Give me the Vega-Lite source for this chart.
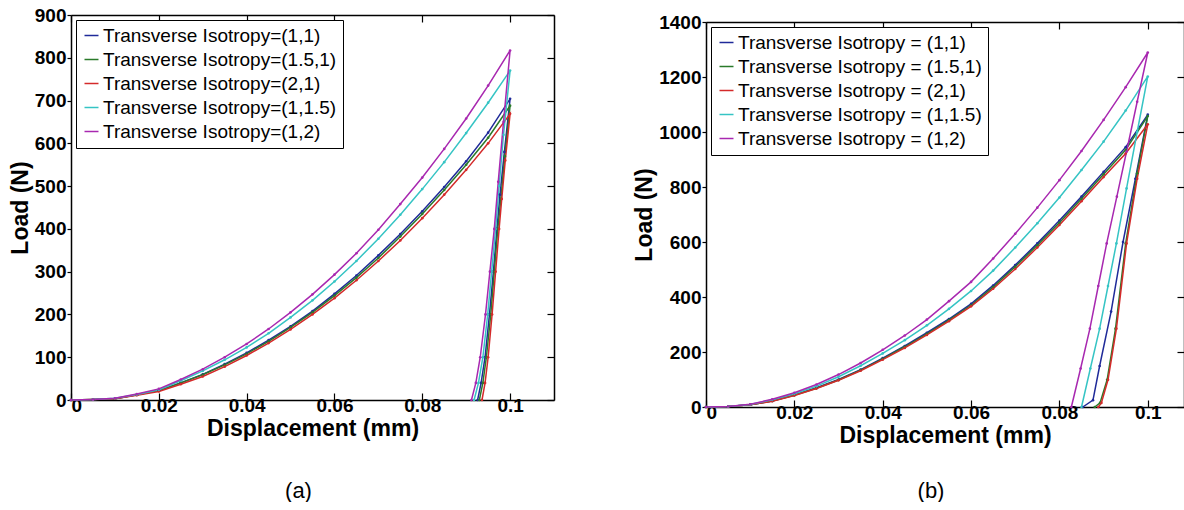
{
"$schema": "https://vega.github.io/schema/vega-lite/v6.json",
"background": "white",
"padding": {"left": 9, "top": 6, "right": 0, "bottom": 0},
"config": {
"font": "Liberation Sans",
"view": {"stroke": null},
"axis": {"domainColor": "black", "domainWidth": 1.5, "tickColor": "black", "tickWidth": 1.2, "labelColor": "black", "titleColor": "black", "labelFontSize": 19, "labelFontWeight": "bold", "titleFontSize": 23, "titleFontWeight": "bold", "grid": false, "labelFont": "Liberation Sans", "titleFont": "Liberation Sans"},
"title": {"font": "Liberation Sans", "color": "black"}
},
"datasets": {
"a": [
{"s":"Transverse Isotropy=(1,1)","i":0,"x":0,"y":0},{"s":"Transverse Isotropy=(1,1)","i":1,"x":0.005,"y":1},{"s":"Transverse Isotropy=(1,1)","i":2,"x":0.01,"y":3},{"s":"Transverse Isotropy=(1,1)","i":3,"x":0.015,"y":12},{"s":"Transverse Isotropy=(1,1)","i":4,"x":0.02,"y":22},{"s":"Transverse Isotropy=(1,1)","i":5,"x":0.025,"y":40},{"s":"Transverse Isotropy=(1,1)","i":6,"x":0.03,"y":60},{"s":"Transverse Isotropy=(1,1)","i":7,"x":0.035,"y":84},{"s":"Transverse Isotropy=(1,1)","i":8,"x":0.04,"y":110},{"s":"Transverse Isotropy=(1,1)","i":9,"x":0.045,"y":140},{"s":"Transverse Isotropy=(1,1)","i":10,"x":0.05,"y":172},{"s":"Transverse Isotropy=(1,1)","i":11,"x":0.055,"y":208},{"s":"Transverse Isotropy=(1,1)","i":12,"x":0.06,"y":248},{"s":"Transverse Isotropy=(1,1)","i":13,"x":0.065,"y":291},{"s":"Transverse Isotropy=(1,1)","i":14,"x":0.07,"y":338},{"s":"Transverse Isotropy=(1,1)","i":15,"x":0.075,"y":388},{"s":"Transverse Isotropy=(1,1)","i":16,"x":0.08,"y":441},{"s":"Transverse Isotropy=(1,1)","i":17,"x":0.085,"y":498},{"s":"Transverse Isotropy=(1,1)","i":18,"x":0.09,"y":558},{"s":"Transverse Isotropy=(1,1)","i":19,"x":0.095,"y":625},{"s":"Transverse Isotropy=(1,1)","i":20,"x":0.1,"y":704},
{"s":"Transverse Isotropy=(1,1)","i":21,"x":0.0987,"y":580},{"s":"Transverse Isotropy=(1,1)","i":22,"x":0.0977,"y":480},{"s":"Transverse Isotropy=(1,1)","i":23,"x":0.097,"y":400},{"s":"Transverse Isotropy=(1,1)","i":24,"x":0.0962,"y":300},{"s":"Transverse Isotropy=(1,1)","i":25,"x":0.0953,"y":200},{"s":"Transverse Isotropy=(1,1)","i":26,"x":0.0943,"y":100},{"s":"Transverse Isotropy=(1,1)","i":27,"x":0.0934,"y":40},{"s":"Transverse Isotropy=(1,1)","i":28,"x":0.0926,"y":0},
{"s":"Transverse Isotropy=(1.5,1)","i":0,"x":0,"y":0},{"s":"Transverse Isotropy=(1.5,1)","i":1,"x":0.005,"y":1},{"s":"Transverse Isotropy=(1.5,1)","i":2,"x":0.01,"y":3},{"s":"Transverse Isotropy=(1.5,1)","i":3,"x":0.015,"y":12},{"s":"Transverse Isotropy=(1.5,1)","i":4,"x":0.02,"y":22},{"s":"Transverse Isotropy=(1.5,1)","i":5,"x":0.025,"y":40},{"s":"Transverse Isotropy=(1.5,1)","i":6,"x":0.03,"y":59},{"s":"Transverse Isotropy=(1.5,1)","i":7,"x":0.035,"y":82},{"s":"Transverse Isotropy=(1.5,1)","i":8,"x":0.04,"y":108},{"s":"Transverse Isotropy=(1.5,1)","i":9,"x":0.045,"y":137},{"s":"Transverse Isotropy=(1.5,1)","i":10,"x":0.05,"y":170},{"s":"Transverse Isotropy=(1.5,1)","i":11,"x":0.055,"y":205},{"s":"Transverse Isotropy=(1.5,1)","i":12,"x":0.06,"y":244},{"s":"Transverse Isotropy=(1.5,1)","i":13,"x":0.065,"y":286},{"s":"Transverse Isotropy=(1.5,1)","i":14,"x":0.07,"y":332},{"s":"Transverse Isotropy=(1.5,1)","i":15,"x":0.075,"y":382},{"s":"Transverse Isotropy=(1.5,1)","i":16,"x":0.08,"y":435},{"s":"Transverse Isotropy=(1.5,1)","i":17,"x":0.085,"y":491},{"s":"Transverse Isotropy=(1.5,1)","i":18,"x":0.09,"y":550},{"s":"Transverse Isotropy=(1.5,1)","i":19,"x":0.095,"y":613},{"s":"Transverse Isotropy=(1.5,1)","i":20,"x":0.1,"y":688},
{"s":"Transverse Isotropy=(1.5,1)","i":21,"x":0.0988,"y":570},{"s":"Transverse Isotropy=(1.5,1)","i":22,"x":0.0979,"y":470},{"s":"Transverse Isotropy=(1.5,1)","i":23,"x":0.0972,"y":400},{"s":"Transverse Isotropy=(1.5,1)","i":24,"x":0.0964,"y":300},{"s":"Transverse Isotropy=(1.5,1)","i":25,"x":0.0956,"y":200},{"s":"Transverse Isotropy=(1.5,1)","i":26,"x":0.0946,"y":100},{"s":"Transverse Isotropy=(1.5,1)","i":27,"x":0.0938,"y":40},{"s":"Transverse Isotropy=(1.5,1)","i":28,"x":0.093,"y":0},
{"s":"Transverse Isotropy=(2,1)","i":0,"x":0,"y":0},{"s":"Transverse Isotropy=(2,1)","i":1,"x":0.005,"y":1},{"s":"Transverse Isotropy=(2,1)","i":2,"x":0.01,"y":3},{"s":"Transverse Isotropy=(2,1)","i":3,"x":0.015,"y":11},{"s":"Transverse Isotropy=(2,1)","i":4,"x":0.02,"y":20},{"s":"Transverse Isotropy=(2,1)","i":5,"x":0.025,"y":37},{"s":"Transverse Isotropy=(2,1)","i":6,"x":0.03,"y":55},{"s":"Transverse Isotropy=(2,1)","i":7,"x":0.035,"y":78},{"s":"Transverse Isotropy=(2,1)","i":8,"x":0.04,"y":104},{"s":"Transverse Isotropy=(2,1)","i":9,"x":0.045,"y":133},{"s":"Transverse Isotropy=(2,1)","i":10,"x":0.05,"y":165},{"s":"Transverse Isotropy=(2,1)","i":11,"x":0.055,"y":200},{"s":"Transverse Isotropy=(2,1)","i":12,"x":0.06,"y":238},{"s":"Transverse Isotropy=(2,1)","i":13,"x":0.065,"y":280},{"s":"Transverse Isotropy=(2,1)","i":14,"x":0.07,"y":325},{"s":"Transverse Isotropy=(2,1)","i":15,"x":0.075,"y":373},{"s":"Transverse Isotropy=(2,1)","i":16,"x":0.08,"y":425},{"s":"Transverse Isotropy=(2,1)","i":17,"x":0.085,"y":480},{"s":"Transverse Isotropy=(2,1)","i":18,"x":0.09,"y":538},{"s":"Transverse Isotropy=(2,1)","i":19,"x":0.095,"y":600},{"s":"Transverse Isotropy=(2,1)","i":20,"x":0.1,"y":669},
{"s":"Transverse Isotropy=(2,1)","i":21,"x":0.0989,"y":560},{"s":"Transverse Isotropy=(2,1)","i":22,"x":0.0981,"y":470},{"s":"Transverse Isotropy=(2,1)","i":23,"x":0.0975,"y":400},{"s":"Transverse Isotropy=(2,1)","i":24,"x":0.0967,"y":300},{"s":"Transverse Isotropy=(2,1)","i":25,"x":0.0959,"y":200},{"s":"Transverse Isotropy=(2,1)","i":26,"x":0.095,"y":100},{"s":"Transverse Isotropy=(2,1)","i":27,"x":0.0943,"y":40},{"s":"Transverse Isotropy=(2,1)","i":28,"x":0.0936,"y":0},
{"s":"Transverse Isotropy=(1,1.5)","i":0,"x":0,"y":0},{"s":"Transverse Isotropy=(1,1.5)","i":1,"x":0.005,"y":1},{"s":"Transverse Isotropy=(1,1.5)","i":2,"x":0.01,"y":4},{"s":"Transverse Isotropy=(1,1.5)","i":3,"x":0.015,"y":13},{"s":"Transverse Isotropy=(1,1.5)","i":4,"x":0.02,"y":24},{"s":"Transverse Isotropy=(1,1.5)","i":5,"x":0.025,"y":45},{"s":"Transverse Isotropy=(1,1.5)","i":6,"x":0.03,"y":68},{"s":"Transverse Isotropy=(1,1.5)","i":7,"x":0.035,"y":94},{"s":"Transverse Isotropy=(1,1.5)","i":8,"x":0.04,"y":123},{"s":"Transverse Isotropy=(1,1.5)","i":9,"x":0.045,"y":156},{"s":"Transverse Isotropy=(1,1.5)","i":10,"x":0.05,"y":193},{"s":"Transverse Isotropy=(1,1.5)","i":11,"x":0.055,"y":233},{"s":"Transverse Isotropy=(1,1.5)","i":12,"x":0.06,"y":277},{"s":"Transverse Isotropy=(1,1.5)","i":13,"x":0.065,"y":325},{"s":"Transverse Isotropy=(1,1.5)","i":14,"x":0.07,"y":377},{"s":"Transverse Isotropy=(1,1.5)","i":15,"x":0.075,"y":433},{"s":"Transverse Isotropy=(1,1.5)","i":16,"x":0.08,"y":493},{"s":"Transverse Isotropy=(1,1.5)","i":17,"x":0.085,"y":556},{"s":"Transverse Isotropy=(1,1.5)","i":18,"x":0.09,"y":624},{"s":"Transverse Isotropy=(1,1.5)","i":19,"x":0.095,"y":695},{"s":"Transverse Isotropy=(1,1.5)","i":20,"x":0.1,"y":770},
{"s":"Transverse Isotropy=(1,1.5)","i":21,"x":0.0985,"y":620},{"s":"Transverse Isotropy=(1,1.5)","i":22,"x":0.0975,"y":500},{"s":"Transverse Isotropy=(1,1.5)","i":23,"x":0.0967,"y":400},{"s":"Transverse Isotropy=(1,1.5)","i":24,"x":0.0958,"y":300},{"s":"Transverse Isotropy=(1,1.5)","i":25,"x":0.0949,"y":200},{"s":"Transverse Isotropy=(1,1.5)","i":26,"x":0.0938,"y":100},{"s":"Transverse Isotropy=(1,1.5)","i":27,"x":0.0928,"y":40},{"s":"Transverse Isotropy=(1,1.5)","i":28,"x":0.0918,"y":0},
{"s":"Transverse Isotropy=(1,2)","i":0,"x":0,"y":0},{"s":"Transverse Isotropy=(1,2)","i":1,"x":0.005,"y":1},{"s":"Transverse Isotropy=(1,2)","i":2,"x":0.01,"y":4},{"s":"Transverse Isotropy=(1,2)","i":3,"x":0.015,"y":14},{"s":"Transverse Isotropy=(1,2)","i":4,"x":0.02,"y":26},{"s":"Transverse Isotropy=(1,2)","i":5,"x":0.025,"y":48},{"s":"Transverse Isotropy=(1,2)","i":6,"x":0.03,"y":72},{"s":"Transverse Isotropy=(1,2)","i":7,"x":0.035,"y":100},{"s":"Transverse Isotropy=(1,2)","i":8,"x":0.04,"y":131},{"s":"Transverse Isotropy=(1,2)","i":9,"x":0.045,"y":166},{"s":"Transverse Isotropy=(1,2)","i":10,"x":0.05,"y":205},{"s":"Transverse Isotropy=(1,2)","i":11,"x":0.055,"y":247},{"s":"Transverse Isotropy=(1,2)","i":12,"x":0.06,"y":293},{"s":"Transverse Isotropy=(1,2)","i":13,"x":0.065,"y":343},{"s":"Transverse Isotropy=(1,2)","i":14,"x":0.07,"y":398},{"s":"Transverse Isotropy=(1,2)","i":15,"x":0.075,"y":458},{"s":"Transverse Isotropy=(1,2)","i":16,"x":0.08,"y":520},{"s":"Transverse Isotropy=(1,2)","i":17,"x":0.085,"y":587},{"s":"Transverse Isotropy=(1,2)","i":18,"x":0.09,"y":658},{"s":"Transverse Isotropy=(1,2)","i":19,"x":0.095,"y":735},{"s":"Transverse Isotropy=(1,2)","i":20,"x":0.1,"y":817},
{"s":"Transverse Isotropy=(1,2)","i":21,"x":0.0985,"y":650},{"s":"Transverse Isotropy=(1,2)","i":22,"x":0.0973,"y":510},{"s":"Transverse Isotropy=(1,2)","i":23,"x":0.0964,"y":400},{"s":"Transverse Isotropy=(1,2)","i":24,"x":0.0954,"y":300},{"s":"Transverse Isotropy=(1,2)","i":25,"x":0.0944,"y":200},{"s":"Transverse Isotropy=(1,2)","i":26,"x":0.0932,"y":100},{"s":"Transverse Isotropy=(1,2)","i":27,"x":0.0922,"y":40},{"s":"Transverse Isotropy=(1,2)","i":28,"x":0.0912,"y":0}
],
"b": [
{"s":"Transverse Isotropy = (1,1)","i":0,"x":0,"y":0},{"s":"Transverse Isotropy = (1,1)","i":1,"x":0.005,"y":2},{"s":"Transverse Isotropy = (1,1)","i":2,"x":0.01,"y":8},{"s":"Transverse Isotropy = (1,1)","i":3,"x":0.015,"y":22},{"s":"Transverse Isotropy = (1,1)","i":4,"x":0.02,"y":44},{"s":"Transverse Isotropy = (1,1)","i":5,"x":0.025,"y":70},{"s":"Transverse Isotropy = (1,1)","i":6,"x":0.03,"y":100},{"s":"Transverse Isotropy = (1,1)","i":7,"x":0.035,"y":136},{"s":"Transverse Isotropy = (1,1)","i":8,"x":0.04,"y":178},{"s":"Transverse Isotropy = (1,1)","i":9,"x":0.045,"y":222},{"s":"Transverse Isotropy = (1,1)","i":10,"x":0.05,"y":270},{"s":"Transverse Isotropy = (1,1)","i":11,"x":0.055,"y":320},{"s":"Transverse Isotropy = (1,1)","i":12,"x":0.06,"y":375},{"s":"Transverse Isotropy = (1,1)","i":13,"x":0.065,"y":442},{"s":"Transverse Isotropy = (1,1)","i":14,"x":0.07,"y":516},{"s":"Transverse Isotropy = (1,1)","i":15,"x":0.075,"y":595},{"s":"Transverse Isotropy = (1,1)","i":16,"x":0.08,"y":678},{"s":"Transverse Isotropy = (1,1)","i":17,"x":0.085,"y":765},{"s":"Transverse Isotropy = (1,1)","i":18,"x":0.09,"y":855},{"s":"Transverse Isotropy = (1,1)","i":19,"x":0.095,"y":945},{"s":"Transverse Isotropy = (1,1)","i":20,"x":0.1,"y":1063},
{"s":"Transverse Isotropy = (1,1)","i":21,"x":0.0972,"y":830},{"s":"Transverse Isotropy = (1,1)","i":22,"x":0.0944,"y":600},{"s":"Transverse Isotropy = (1,1)","i":23,"x":0.0917,"y":347},{"s":"Transverse Isotropy = (1,1)","i":24,"x":0.0891,"y":149},{"s":"Transverse Isotropy = (1,1)","i":25,"x":0.0876,"y":25},{"s":"Transverse Isotropy = (1,1)","i":26,"x":0.0853,"y":0},
{"s":"Transverse Isotropy = (1.5,1)","i":0,"x":0,"y":0},{"s":"Transverse Isotropy = (1.5,1)","i":1,"x":0.005,"y":2},{"s":"Transverse Isotropy = (1.5,1)","i":2,"x":0.01,"y":8},{"s":"Transverse Isotropy = (1.5,1)","i":3,"x":0.015,"y":22},{"s":"Transverse Isotropy = (1.5,1)","i":4,"x":0.02,"y":43},{"s":"Transverse Isotropy = (1.5,1)","i":5,"x":0.025,"y":68},{"s":"Transverse Isotropy = (1.5,1)","i":6,"x":0.03,"y":98},{"s":"Transverse Isotropy = (1.5,1)","i":7,"x":0.035,"y":134},{"s":"Transverse Isotropy = (1.5,1)","i":8,"x":0.04,"y":175},{"s":"Transverse Isotropy = (1.5,1)","i":9,"x":0.045,"y":219},{"s":"Transverse Isotropy = (1.5,1)","i":10,"x":0.05,"y":266},{"s":"Transverse Isotropy = (1.5,1)","i":11,"x":0.055,"y":316},{"s":"Transverse Isotropy = (1.5,1)","i":12,"x":0.06,"y":370},{"s":"Transverse Isotropy = (1.5,1)","i":13,"x":0.065,"y":436},{"s":"Transverse Isotropy = (1.5,1)","i":14,"x":0.07,"y":510},{"s":"Transverse Isotropy = (1.5,1)","i":15,"x":0.075,"y":588},{"s":"Transverse Isotropy = (1.5,1)","i":16,"x":0.08,"y":670},{"s":"Transverse Isotropy = (1.5,1)","i":17,"x":0.085,"y":757},{"s":"Transverse Isotropy = (1.5,1)","i":18,"x":0.09,"y":846},{"s":"Transverse Isotropy = (1.5,1)","i":19,"x":0.095,"y":935},{"s":"Transverse Isotropy = (1.5,1)","i":20,"x":0.1,"y":1058},
{"s":"Transverse Isotropy = (1.5,1)","i":21,"x":0.0976,"y":850},{"s":"Transverse Isotropy = (1.5,1)","i":22,"x":0.095,"y":595},{"s":"Transverse Isotropy = (1.5,1)","i":23,"x":0.0927,"y":285},{"s":"Transverse Isotropy = (1.5,1)","i":24,"x":0.0908,"y":99},{"s":"Transverse Isotropy = (1.5,1)","i":25,"x":0.0892,"y":15},{"s":"Transverse Isotropy = (1.5,1)","i":26,"x":0.088,"y":0},
{"s":"Transverse Isotropy = (2,1)","i":0,"x":0,"y":0},{"s":"Transverse Isotropy = (2,1)","i":1,"x":0.005,"y":2},{"s":"Transverse Isotropy = (2,1)","i":2,"x":0.01,"y":8},{"s":"Transverse Isotropy = (2,1)","i":3,"x":0.015,"y":21},{"s":"Transverse Isotropy = (2,1)","i":4,"x":0.02,"y":42},{"s":"Transverse Isotropy = (2,1)","i":5,"x":0.025,"y":67},{"s":"Transverse Isotropy = (2,1)","i":6,"x":0.03,"y":97},{"s":"Transverse Isotropy = (2,1)","i":7,"x":0.035,"y":132},{"s":"Transverse Isotropy = (2,1)","i":8,"x":0.04,"y":172},{"s":"Transverse Isotropy = (2,1)","i":9,"x":0.045,"y":215},{"s":"Transverse Isotropy = (2,1)","i":10,"x":0.05,"y":262},{"s":"Transverse Isotropy = (2,1)","i":11,"x":0.055,"y":312},{"s":"Transverse Isotropy = (2,1)","i":12,"x":0.06,"y":366},{"s":"Transverse Isotropy = (2,1)","i":13,"x":0.065,"y":430},{"s":"Transverse Isotropy = (2,1)","i":14,"x":0.07,"y":502},{"s":"Transverse Isotropy = (2,1)","i":15,"x":0.075,"y":580},{"s":"Transverse Isotropy = (2,1)","i":16,"x":0.08,"y":662},{"s":"Transverse Isotropy = (2,1)","i":17,"x":0.085,"y":748},{"s":"Transverse Isotropy = (2,1)","i":18,"x":0.09,"y":836},{"s":"Transverse Isotropy = (2,1)","i":19,"x":0.095,"y":922},{"s":"Transverse Isotropy = (2,1)","i":20,"x":0.1,"y":1028},
{"s":"Transverse Isotropy = (2,1)","i":21,"x":0.0976,"y":830},{"s":"Transverse Isotropy = (2,1)","i":22,"x":0.0952,"y":595},{"s":"Transverse Isotropy = (2,1)","i":23,"x":0.0929,"y":285},{"s":"Transverse Isotropy = (2,1)","i":24,"x":0.091,"y":99},{"s":"Transverse Isotropy = (2,1)","i":25,"x":0.0895,"y":15},{"s":"Transverse Isotropy = (2,1)","i":26,"x":0.0888,"y":0},
{"s":"Transverse Isotropy = (1,1.5)","i":0,"x":0,"y":0},{"s":"Transverse Isotropy = (1,1.5)","i":1,"x":0.005,"y":2},{"s":"Transverse Isotropy = (1,1.5)","i":2,"x":0.01,"y":9},{"s":"Transverse Isotropy = (1,1.5)","i":3,"x":0.015,"y":26},{"s":"Transverse Isotropy = (1,1.5)","i":4,"x":0.02,"y":48},{"s":"Transverse Isotropy = (1,1.5)","i":5,"x":0.025,"y":76},{"s":"Transverse Isotropy = (1,1.5)","i":6,"x":0.03,"y":110},{"s":"Transverse Isotropy = (1,1.5)","i":7,"x":0.035,"y":150},{"s":"Transverse Isotropy = (1,1.5)","i":8,"x":0.04,"y":195},{"s":"Transverse Isotropy = (1,1.5)","i":9,"x":0.045,"y":243},{"s":"Transverse Isotropy = (1,1.5)","i":10,"x":0.05,"y":297},{"s":"Transverse Isotropy = (1,1.5)","i":11,"x":0.055,"y":357},{"s":"Transverse Isotropy = (1,1.5)","i":12,"x":0.06,"y":422},{"s":"Transverse Isotropy = (1,1.5)","i":13,"x":0.065,"y":496},{"s":"Transverse Isotropy = (1,1.5)","i":14,"x":0.07,"y":580},{"s":"Transverse Isotropy = (1,1.5)","i":15,"x":0.075,"y":668},{"s":"Transverse Isotropy = (1,1.5)","i":16,"x":0.08,"y":762},{"s":"Transverse Isotropy = (1,1.5)","i":17,"x":0.085,"y":862},{"s":"Transverse Isotropy = (1,1.5)","i":18,"x":0.09,"y":965},{"s":"Transverse Isotropy = (1,1.5)","i":19,"x":0.095,"y":1078},{"s":"Transverse Isotropy = (1,1.5)","i":20,"x":0.1,"y":1202},
{"s":"Transverse Isotropy = (1,1.5)","i":21,"x":0.0976,"y":1000},{"s":"Transverse Isotropy = (1,1.5)","i":22,"x":0.0952,"y":795},{"s":"Transverse Isotropy = (1,1.5)","i":23,"x":0.0929,"y":595},{"s":"Transverse Isotropy = (1,1.5)","i":24,"x":0.091,"y":440},{"s":"Transverse Isotropy = (1,1.5)","i":25,"x":0.0891,"y":285},{"s":"Transverse Isotropy = (1,1.5)","i":26,"x":0.087,"y":140},{"s":"Transverse Isotropy = (1,1.5)","i":27,"x":0.085,"y":0},
{"s":"Transverse Isotropy = (1,2)","i":0,"x":0,"y":0},{"s":"Transverse Isotropy = (1,2)","i":1,"x":0.005,"y":2},{"s":"Transverse Isotropy = (1,2)","i":2,"x":0.01,"y":10},{"s":"Transverse Isotropy = (1,2)","i":3,"x":0.015,"y":28},{"s":"Transverse Isotropy = (1,2)","i":4,"x":0.02,"y":52},{"s":"Transverse Isotropy = (1,2)","i":5,"x":0.025,"y":82},{"s":"Transverse Isotropy = (1,2)","i":6,"x":0.03,"y":118},{"s":"Transverse Isotropy = (1,2)","i":7,"x":0.035,"y":160},{"s":"Transverse Isotropy = (1,2)","i":8,"x":0.04,"y":208},{"s":"Transverse Isotropy = (1,2)","i":9,"x":0.045,"y":260},{"s":"Transverse Isotropy = (1,2)","i":10,"x":0.05,"y":318},{"s":"Transverse Isotropy = (1,2)","i":11,"x":0.055,"y":385},{"s":"Transverse Isotropy = (1,2)","i":12,"x":0.06,"y":455},{"s":"Transverse Isotropy = (1,2)","i":13,"x":0.065,"y":540},{"s":"Transverse Isotropy = (1,2)","i":14,"x":0.07,"y":630},{"s":"Transverse Isotropy = (1,2)","i":15,"x":0.075,"y":725},{"s":"Transverse Isotropy = (1,2)","i":16,"x":0.08,"y":825},{"s":"Transverse Isotropy = (1,2)","i":17,"x":0.085,"y":931},{"s":"Transverse Isotropy = (1,2)","i":18,"x":0.09,"y":1044},{"s":"Transverse Isotropy = (1,2)","i":19,"x":0.095,"y":1163},{"s":"Transverse Isotropy = (1,2)","i":20,"x":0.1,"y":1289},
{"s":"Transverse Isotropy = (1,2)","i":21,"x":0.0976,"y":1110},{"s":"Transverse Isotropy = (1,2)","i":22,"x":0.0952,"y":929},{"s":"Transverse Isotropy = (1,2)","i":23,"x":0.093,"y":765},{"s":"Transverse Isotropy = (1,2)","i":24,"x":0.0907,"y":595},{"s":"Transverse Isotropy = (1,2)","i":25,"x":0.0888,"y":440},{"s":"Transverse Isotropy = (1,2)","i":26,"x":0.0869,"y":285},{"s":"Transverse Isotropy = (1,2)","i":27,"x":0.0848,"y":140},{"s":"Transverse Isotropy = (1,2)","i":28,"x":0.0827,"y":0}
]
},
"spacing": 78,
"resolve": {"scale": {"color": "independent"}, "legend": {"color": "independent"}},
"hconcat": [
{
"width": 483, "height": 385,
"data": {"name": "a"},
"title": {"text": "(a)", "orient": "bottom", "fontSize": 22, "fontWeight": "normal", "offset": 41, "anchor": "middle", "dx": -14},
"layer": [
{"mark": {"type": "line", "strokeWidth": 1.5},
"encoding": {
"x": {"field": "x", "type": "quantitative", "scale": {"domain": [0, 0.11], "nice": false}, "axis": {"orient": "bottom", "values": [0, 0.02, 0.04, 0.06, 0.08, 0.1], "format": "~g", "tickSize": -7, "labelPadding": 3, "title": "Displacement (mm)", "titlePadding": 2}},
"y": {"field": "y", "type": "quantitative", "scale": {"domain": [0, 900], "nice": false}, "axis": {"orient": "left", "values": [0, 100, 200, 300, 400, 500, 600, 700, 800, 900], "format": "d", "tickSize": 4, "labelPadding": 1, "title": "Load (N)", "titlePadding": 2}},
"color": {"field": "s", "type": "nominal", "scale": {"domain": ["Transverse Isotropy=(1,1)", "Transverse Isotropy=(1.5,1)", "Transverse Isotropy=(2,1)", "Transverse Isotropy=(1,1.5)", "Transverse Isotropy=(1,2)"], "range": ["#1f2a99", "#2a7a2a", "#d42a2a", "#35c4c4", "#a828b0"]},
"legend": {"orient": "top-left", "offset": 5, "title": null, "symbolType": "stroke", "symbolSize": 196, "symbolStrokeWidth": 1.5, "labelFontSize": 19, "labelFont": "Liberation Sans", "labelColor": "black", "labelLimit": 400, "strokeColor": "black", "fillColor": "white", "padding": 6, "rowPadding": 4, "labelOffset": 2, "cornerRadius": 0}},
"order": {"field": "i", "type": "quantitative"}
}},
{"mark": {"type": "point", "filled": true, "size": 7, "opacity": 1},
"encoding": {
"x": {"field": "x", "type": "quantitative", "axis": {"orient": "top", "values": [0, 0.02, 0.04, 0.06, 0.08, 0.1], "labels": false, "tickSize": -7, "title": null}},
"y": {"field": "y", "type": "quantitative", "axis": {"orient": "right", "values": [0, 100, 200, 300, 400, 500, 600, 700, 800, 900], "labels": false, "tickSize": -7, "title": null}},
"color": {"field": "s", "type": "nominal", "legend": null}
}}
],
"resolve": {"axis": {"x": "independent", "y": "independent"}}
},
{
"width": 478, "height": 392,
"data": {"name": "b"},
"title": {"text": "(b)", "orient": "bottom", "fontSize": 22, "fontWeight": "normal", "offset": 34, "anchor": "middle", "dx": -14},
"layer": [
{"mark": {"type": "line", "strokeWidth": 1.5},
"encoding": {
"x": {"field": "x", "type": "quantitative", "scale": {"domain": [0, 0.1082], "nice": false}, "axis": {"orient": "bottom", "values": [0, 0.02, 0.04, 0.06, 0.08, 0.1], "format": "~g", "tickSize": -7, "labelPadding": 3, "title": "Displacement (mm)", "titlePadding": 2}},
"y": {"field": "y", "type": "quantitative", "scale": {"domain": [0, 1400], "nice": false, "range": [392, 7]}, "axis": {"orient": "left", "values": [0, 200, 400, 600, 800, 1000, 1200, 1400], "format": "d", "tickSize": 4, "labelPadding": 1, "title": "Load (N)", "titlePadding": 2}},
"color": {"field": "s", "type": "nominal", "scale": {"domain": ["Transverse Isotropy = (1,1)", "Transverse Isotropy = (1.5,1)", "Transverse Isotropy = (2,1)", "Transverse Isotropy = (1,1.5)", "Transverse Isotropy = (1,2)"], "range": ["#1f2a99", "#2a7a2a", "#d42a2a", "#35c4c4", "#a828b0"]},
"legend": {"orient": "none", "legendX": 5, "legendY": 12, "title": null, "symbolType": "stroke", "symbolSize": 196, "symbolStrokeWidth": 1.5, "labelFontSize": 19, "labelFont": "Liberation Sans", "labelColor": "black", "labelLimit": 400, "strokeColor": "black", "fillColor": "white", "padding": 6, "rowPadding": 4, "labelOffset": 2, "cornerRadius": 0}},
"order": {"field": "i", "type": "quantitative"}
}},
{"mark": {"type": "point", "filled": true, "size": 7, "opacity": 1},
"encoding": {
"x": {"field": "x", "type": "quantitative", "axis": {"orient": "top", "offset": -7, "values": [0, 0.02, 0.04, 0.06, 0.08, 0.1], "labels": false, "tickSize": -7, "title": null}},
"y": {"field": "y", "type": "quantitative", "axis": {"orient": "right", "values": [0, 200, 400, 600, 800, 1000, 1200, 1400], "labels": false, "tickSize": -7, "title": null}},
"color": {"field": "s", "type": "nominal", "legend": null}
}}
],
"resolve": {"axis": {"x": "independent", "y": "independent"}}
}
]
}
